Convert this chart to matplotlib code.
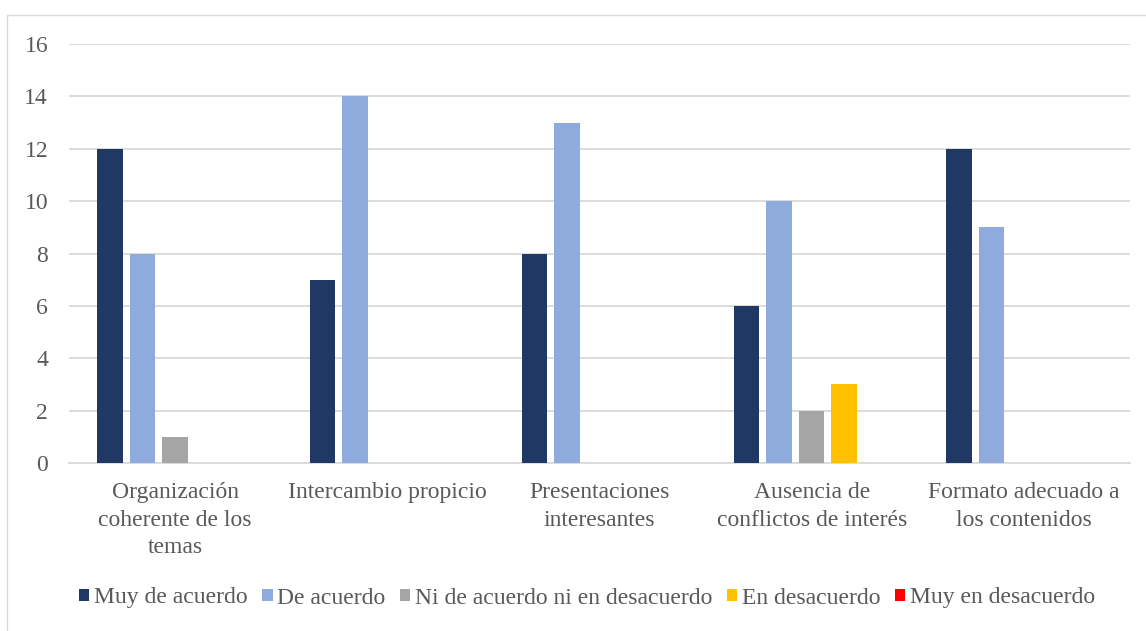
import matplotlib
matplotlib.use("Agg")
import matplotlib.pyplot as plt
from matplotlib.patches import Rectangle
import numpy as np

categories = ["Organización\ncoherente de los\ntemas", "Intercambio propicio",
              "Presentaciones\ninteresantes", "Ausencia de\nconflictos de interés",
              "Formato adecuado a\nlos contenidos"]
series_names = ["Muy de acuerdo", "De acuerdo", "Ni de acuerdo ni en desacuerdo",
                "En desacuerdo", "Muy en desacuerdo"]
muy_de_acuerdo = [12, 7, 8, 6, 12]
de_acuerdo = [8, 14, 13, 10, 9]
ni_ni = [1, 0, 0, 2, 0]
en_desacuerdo = [0, 0, 0, 3, 0]
muy_en_desacuerdo = [0, 0, 0, 0, 0]
yticks = [0, 2, 4, 6, 8, 10, 12, 14, 16]

colors = ["#203864", "#8FAADC", "#A5A5A5", "#FFC000", "#FF0000"]
series = [muy_de_acuerdo, de_acuerdo, ni_ni, en_desacuerdo, muy_en_desacuerdo]

plt.rcParams['font.family'] = ['Liberation Serif', 'DejaVu Serif']
fig = plt.figure(figsize=(11.46, 6.31), dpi=100)
W, H = 1146, 631
# chart border
fig.patches.append(Rectangle((7 / W, -0.1), 1.2, (631 - 15) / H + 0.1, transform=fig.transFigure,
                             fill=False, edgecolor="#D9D9D9", linewidth=1.0))

ax = fig.add_axes([69 / W, 1 - 463 / H, (1130 - 69) / W, (463 - 44) / H])
x = np.arange(len(categories))
pitch = 32.5 / 212.2
bw = 25.5 / 212.2
for i, (vals, name, c) in enumerate(zip(series, series_names, colors)):
    ax.bar(x + (i - 2) * pitch, vals, bw, color=c, label=name, zorder=3)

ax.set_xlim(-0.5, len(categories) - 0.5)
ax.set_ylim(0, 16)
ax.set_yticks(yticks)
ax.grid(axis='y', color="#D9D9D9", linewidth=1.3, zorder=0)
for s in ["top", "right", "left"]:
    ax.spines[s].set_visible(False)
ax.spines["bottom"].set_color("#D9D9D9")
ax.spines["bottom"].set_linewidth(1.3)
ax.tick_params(axis='both', length=0, labelsize=17, labelcolor="#595959")
ax.tick_params(axis='y', pad=15)
ax.tick_params(axis='x', pad=14)
ax.set_xticks(x)
ax.set_xticklabels(categories, linespacing=1.38)

leg = fig.legend(*ax.get_legend_handles_labels(), loc="center", bbox_to_anchor=(587 / W, 1 - 598 / H),
                 ncol=5, frameon=False, fontsize=17, handlelength=0.45, handleheight=0.45,
                 handletextpad=0.2, columnspacing=0.6, labelcolor="#595959")

fig.savefig("out.png", dpi=100)
